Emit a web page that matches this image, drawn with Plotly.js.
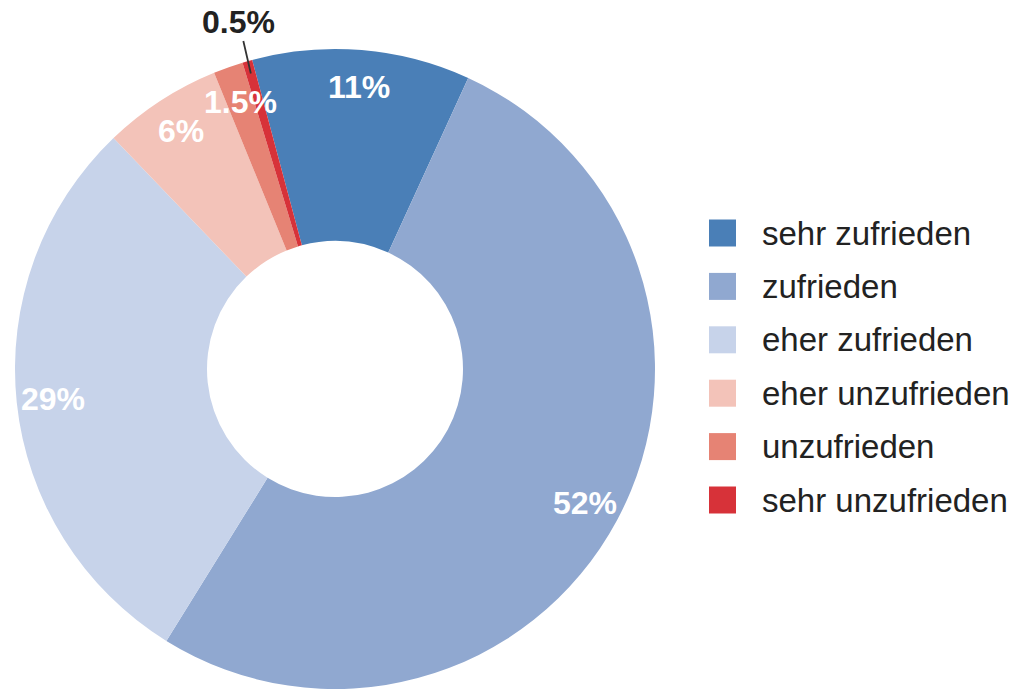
<!DOCTYPE html>
<html>
<head>
<meta charset="utf-8">
<script src="https://cdn.plot.ly/plotly-3.0.1.min.js"></script>
<style>html,body{margin:0;padding:0;background:#fff;}#chart{width:1020px;height:691px;}</style>
</head>
<body>
<div id="chart"></div>
<script>
// ---- data ----
const labels = ["sehr zufrieden", "zufrieden", "eher zufrieden", "eher unzufrieden", "unzufrieden", "sehr unzufrieden"];
const values = [11, 52, 29, 6, 1.5, 0.5];
const valueText = ["11%", "52%", "29%", "6%", "1.5%", "0.5%"];
const colors = ["#4a7fb7", "#90a8d0", "#c7d3ea", "#f3c3b9", "#e68374", "#d73239"];

// ---- geometry ----
const W = 1020, H = 691;
const cx = 335, cyTop = 369, R = 320;
const rotation = -15;
const font = "Liberation Sans, Arial, Helvetica, sans-serif";

const total = values.reduce((a, b) => a + b, 0);
const annotations = [];
const shapes = [];
let acc = 0;
values.forEach((v, i) => {
  const mid = (rotation + (acc + v / 2) / total * 360) * Math.PI / 180;
  acc += v;
  if (i === values.length - 1) {
    const rr = R * 0.96;
    const px = cx + rr * Math.sin(mid), py = cyTop - rr * Math.cos(mid);
    annotations.push({
      x: px / W, y: 1 - py / H, xref: "paper", yref: "paper",
      text: "<b>" + valueText[i] + "</b>", showarrow: true, arrowhead: 0,
      arrowwidth: 1.8, arrowcolor: "#333", ax: -12, ay: -52, standoff: 0,
      font: {family: font, size: 32, color: "#222"}
    });
  } else {
    const rr = R * 0.885;
    const px = cx + rr * Math.sin(mid), py = cyTop - rr * Math.cos(mid);
    annotations.push({
      x: px / W, y: 1 - py / H, xref: "paper", yref: "paper",
      text: "<b>" + valueText[i] + "</b>", showarrow: false,
      xanchor: "center", yanchor: "middle",
      font: {family: font, size: 32, color: "#ffffff"}
    });
  }
});

// manual legend
const legX = 709, legSq = 27, legTextX = 760, legY0 = 233, legDy = 53.4;
labels.forEach((lab, i) => {
  const yc = legY0 + i * legDy;
  shapes.push({
    type: "rect", xref: "paper", yref: "paper",
    x0: legX / W, x1: (legX + legSq) / W,
    y0: 1 - (yc + legSq / 2) / H, y1: 1 - (yc - legSq / 2) / H,
    fillcolor: colors[i], line: {width: 0}
  });
  annotations.push({
    x: legTextX / W, y: 1 - yc / H, xref: "paper", yref: "paper",
    text: lab, showarrow: false, xanchor: "left", yanchor: "middle",
    font: {family: font, size: 33, color: "#222"}
  });
});

const trace = {
  type: "pie",
  labels: labels,
  values: values,
  hole: 0.4,
  sort: false,
  direction: "clockwise",
  rotation: rotation,
  textinfo: "none",
  hoverinfo: "label+percent",
  marker: {colors: colors, line: {width: 0}},
  domain: {x: [(cx - R) / W, (cx + R) / W], y: [(H - cyTop - R) / H, (H - cyTop + R) / H]},
  showlegend: false
};

const layout = {
  width: W, height: H,
  margin: {l: 0, r: 0, t: 0, b: 0},
  paper_bgcolor: "#ffffff",
  showlegend: false,
  annotations: annotations,
  shapes: shapes
};

Plotly.newPlot("chart", [trace], layout, {displayModeBar: false, staticPlot: true});
</script>
</body>
</html>
